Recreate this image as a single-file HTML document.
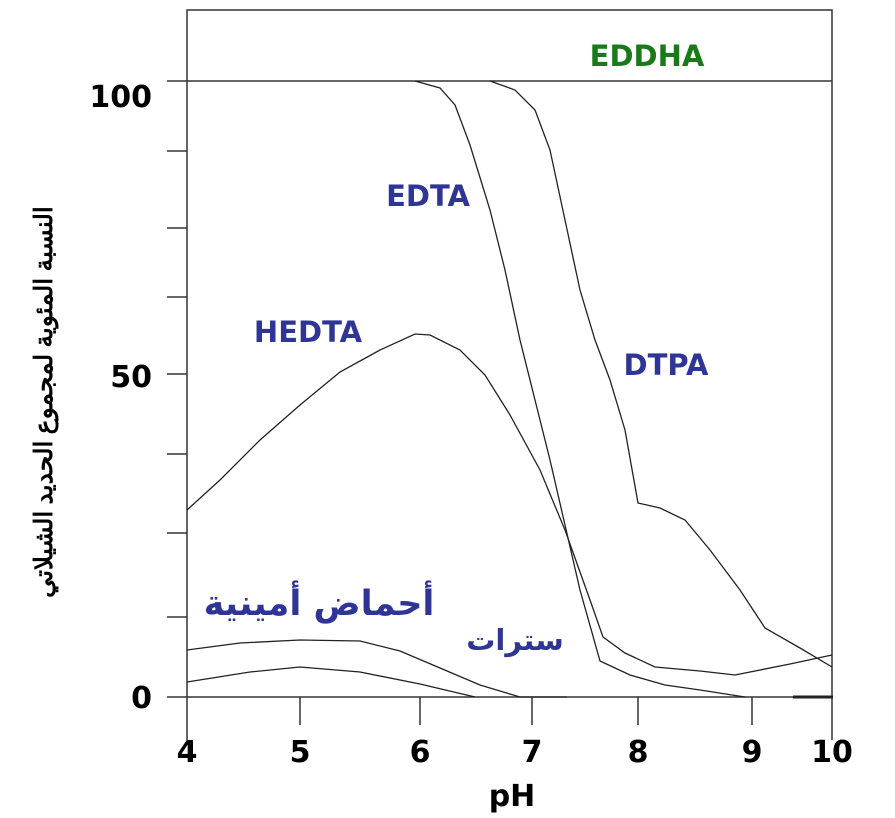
<!DOCTYPE html>
<html><head><meta charset="utf-8"><style>
body{margin:0;background:#fff;width:895px;height:818px;overflow:hidden}
svg{display:block}
.t{font-family:"DejaVu Sans","Liberation Sans",sans-serif;font-weight:bold}
</style></head><body>
<svg width="895" height="818" viewBox="0 0 895 818">
<g stroke="#333" stroke-width="1.5" fill="none">
<polyline points="187,740 187,10 832,10 832,740"/>
<line x1="167" y1="81" x2="832" y2="81"/>
<line x1="167" y1="697" x2="832" y2="697"/>
<line x1="167" y1="151" x2="187" y2="151"/>
<line x1="167" y1="228" x2="187" y2="228"/>
<line x1="167" y1="297" x2="187" y2="297"/>
<line x1="167" y1="374" x2="187" y2="374"/>
<line x1="167" y1="454" x2="187" y2="454"/>
<line x1="167" y1="533" x2="187" y2="533"/>
<line x1="167" y1="617" x2="187" y2="617"/>
<line x1="300" y1="697" x2="300" y2="725"/>
<line x1="420" y1="697" x2="420" y2="725"/>
<line x1="532" y1="697" x2="532" y2="725"/>
<line x1="638" y1="697" x2="638" y2="725"/>
<line x1="752" y1="697" x2="752" y2="725"/>
</g>
<g stroke="#222" stroke-width="1.3" fill="none">
<polyline points="187,510 220,480 260,440 300,405 340,372 380,350 415,334 430,335 460,350 485,375 510,415 540,470 565,530 590,600 603,637 625,653 655,667 700,671 735,675 790,664 832,655"/>
<polyline points="415,81 440,88 455,105 470,145 490,210 505,270 520,340 535,400 550,460 565,525 580,590 600,661 630,675 665,685 700,690 745,697"/>
<polyline points="490,81 515,90 535,110 550,150 565,220 580,290 595,340 610,380 625,430 638,503 660,508 685,520 710,550 740,590 765,628 800,648 832,667"/>
<polyline points="187,650 240,643 300,640 360,641 400,651 440,668 480,685 520,697 567,697"/>
<polyline points="187,682 250,672 300,667 360,672 420,684 475,697"/>
<line x1="793" y1="697" x2="833" y2="697" stroke-width="3"/>
</g>
<g class="t" font-size="30" text-anchor="end" fill="#000">
<text x="152" y="107">100</text><text x="152" y="387">50</text><text x="152" y="708">0</text>
</g>
<g class="t" font-size="30" text-anchor="middle" fill="#000">
<text x="187" y="762">4</text><text x="300" y="762">5</text><text x="420" y="762">6</text><text x="532" y="762">7</text><text x="638" y="762">8</text><text x="752" y="762">9</text><text x="832" y="762">10</text>
<text x="512" y="806">pH</text>
</g>
<text class="t" x="647" y="66" font-size="29" fill="#1a7a1a" text-anchor="middle">EDDHA</text>
<g class="t" font-size="29" fill="#2e3596" text-anchor="middle">
<text x="428" y="206">EDTA</text>
<text x="308" y="342">HEDTA</text>
<text x="666" y="375">DTPA</text>
</g>
<g font-family="'DejaVu Sans',sans-serif" font-weight="bold" fill="#2e3596">
<text x="319" y="615" font-size="35" text-anchor="middle" direction="rtl">أحماض أمينية</text>
<text x="515" y="650" font-size="29" text-anchor="middle" direction="rtl">سترات</text>
</g>
<text transform="translate(52,402) rotate(-90)" font-family="'Liberation Serif','DejaVu Serif',serif" font-weight="bold" font-size="25" text-anchor="middle" direction="rtl" fill="#000">النسبة المئوية لمجموع الحديد الشيلاتي</text>
</svg>
</body></html>
